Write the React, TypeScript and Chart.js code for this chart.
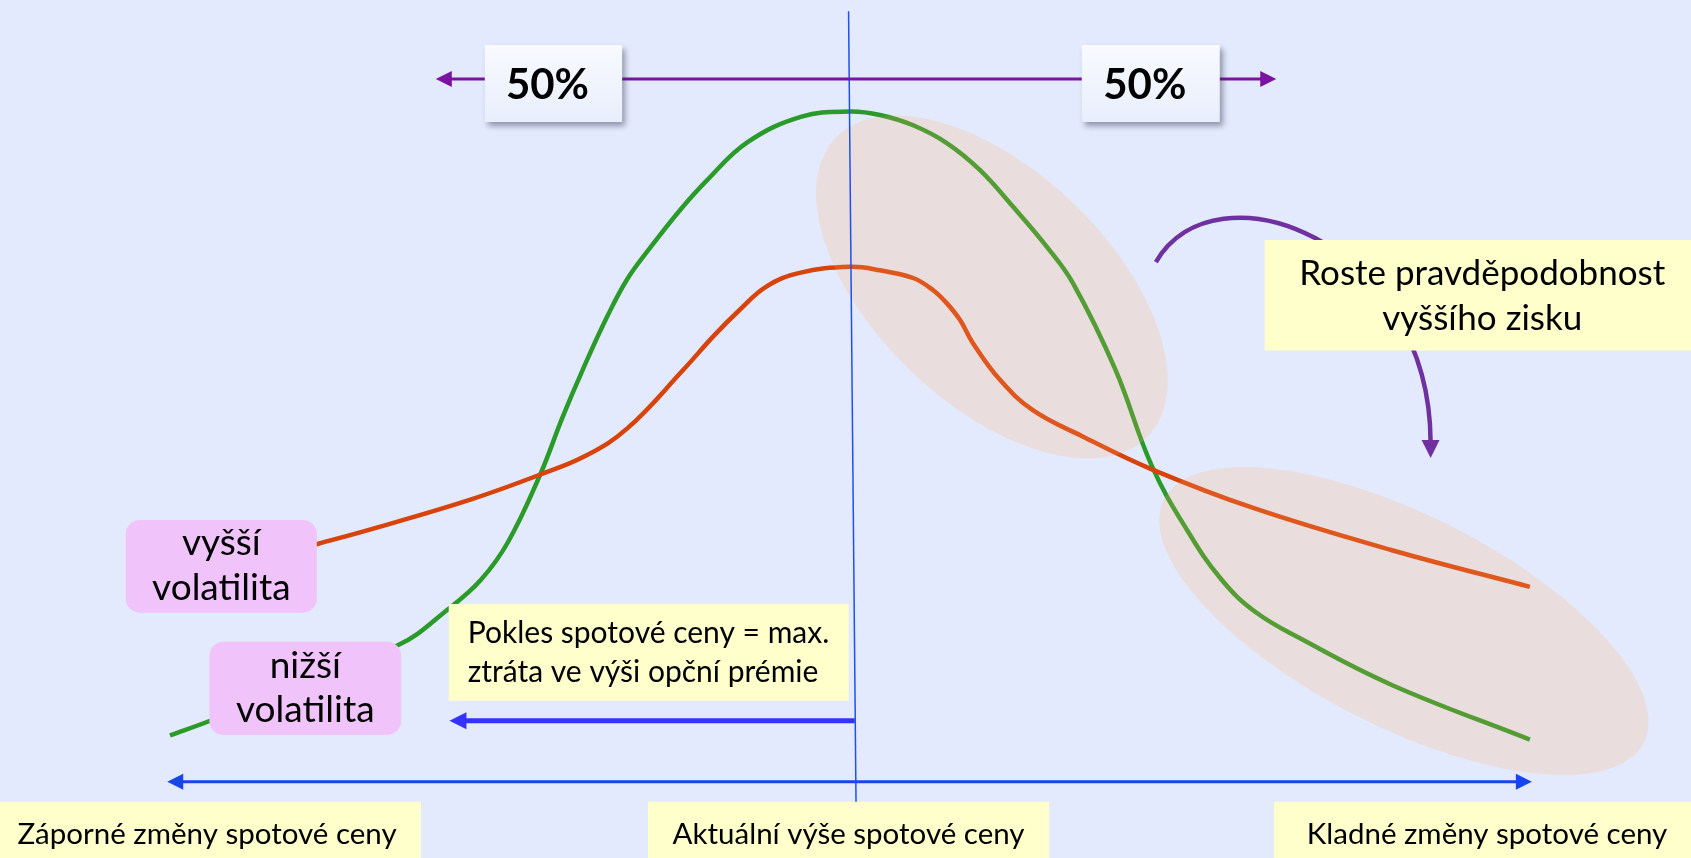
import React, { useEffect, useRef } from "react";
import { Chart, registerables } from "chart.js";

Chart.register(...registerables);

const W = 1691;
const H = 858;

// x = change of the spot price (relative units, 0 = current spot price)
// y = relative probability / payoff level
const lowVolX = [-10, -9.41, -6.65, -5.91, -5.43, -5.03, -4.56, -4.22, -3.93, -3.57, -3.28, -2.94, -2.5, -2.1, -1.51, -0.71, 0, 0.44, 0.93, 1.43, 1.91, 2.4, 2.9, 3.28, 3.9, 4.44, 4.96, 5.47, 5.96, 6.62, 7.96, 10];
const lowVolY = [14.3, 16, 24.8, 29, 32.4, 36.8, 44.6, 51.5, 56.9, 63.1, 67.4, 71.1, 75.5, 79, 83.4, 86.4, 87, 86.6, 85.4, 83.3, 80.2, 75.9, 71.2, 67, 57, 45.7, 38.2, 32.4, 28.7, 25.6, 20.2, 13.8];
const highVolX = [-10, -7.83, -6.92, -5.57, -4.55, -3.88, -3.27, -2.45, -2.01, -1.62, -1.23, -0.74, 0, 0.44, 0.93, 1.22, 1.42, 1.62, 1.81, 2.21, 2.69, 3.43, 4.44, 5.93, 7.96, 10];
const highVolY = [31.9, 36.6, 38.6, 41.8, 44.7, 46.9, 50.1, 56.9, 60.8, 63.9, 66.6, 68.2, 68.9, 68.5, 67.6, 66.2, 64.7, 62.7, 60, 55.7, 52.2, 49.1, 45.3, 40.8, 35.9, 31.6];

const axisLabels = ["Záporné změny spotové ceny", "Aktuální výše spotové ceny", "Kladné změny spotové ceny"];
const shareLabels = ["50%", "50%"];
const highVolLabel = ["vyšší", "volatilita"];
const lowVolLabel = ["nižší", "volatilita"];
const lossNote = ["Pokles spotové ceny = max.", "ztráta ve výši opční prémie"];
const gainNote = ["Roste pravděpodobnost", "vyššího zisku"];

// scale domain
const X_MIN = -12.5;
const X_MAX = 12.37;
const Y_MIN = 0;
const Y_MAX = 100;

// colours
const BG = "#E4EAFD";
const GREEN = "#2A9A2A";
const RED = "#D8430C";
const YELLOW = "#FFFFCC";
const PINK = "#F0C4FB";
const PURPLE_LINE = "#7B12A1";
const PURPLE_ARC = "#7030A0";
const BLUE_AXIS = "#1744EE";
const BLUE_LOSS = "#3333FF";
const BLUE_VLINE = "#1E50F0";
const HIGHLIGHT = "rgba(255,169,93,0.2)";
const FONT = "Lato, 'Open Sans', sans-serif";

// annotation geometry in data units
const highlights = [
  { c: [2.088, 66.55], major: [4.385, 49.16], minor: [0.9, 56.69] },
  { c: [8.147, 27.62], major: [11.675, 13.44], minor: [7.44, 16.61] },
];
const spotLine = { from: [-0.02, 98.7], to: [0.09, 6.5] };
const splitArrow = { y: 90.8, x1: -6.09, x2: 6.27 };
const axisArrow = { y: 8.89, x1: -10.04, x2: 10.03 };
const lossArrow = { y: 16.0, from: 0.07, to: -5.89 };
const gainArc = [[4.5, 69.46], [5.37, 81.35], [8.53, 72.03], [8.54, 48.48]];

type Box = {
  x1: number; x2: number; y1: number; y2: number;
  fill: string; radius: number; lines: string[]; font: string;
  align: "center" | "left"; inset?: number; baselines: number[]; dx?: number;
  shadow?: boolean;
};

const boxes: Box[] = [
  { x1: -5.37, x2: -3.35, y1: 94.76, y2: 85.78, fill: "grad", radius: 0, lines: [shareLabels[0]], font: `bold 42px ${FONT}`, align: "center", baselines: [16], dx: -6, shadow: true },
  { x1: 3.41, x2: 5.44, y1: 94.76, y2: 85.78, fill: "grad", radius: 0, lines: [shareLabels[1]], font: `bold 42px ${FONT}`, align: "center", baselines: [16], dx: -6, shadow: true },
  { x1: -10.65, x2: -7.84, y1: 39.39, y2: 28.59, fill: PINK, radius: 14, lines: highVolLabel, font: `37px ${FONT}`, align: "center", baselines: [-11.5, 33.5] },
  { x1: -9.42, x2: -6.6, y1: 25.21, y2: 14.34, fill: PINK, radius: 14, lines: lowVolLabel, font: `37px ${FONT}`, align: "center", baselines: [-10, 33.3] },
  { x1: -5.9, x2: -0.02, y1: 29.6, y2: 18.33, fill: YELLOW, radius: 0, lines: lossNote, font: `30px ${FONT}`, align: "left", inset: 19, baselines: [-9.5, 29.5] },
  { x1: 6.1, x2: 12.5, y1: 72.03, y2: 59.15, fill: YELLOW, radius: 0, lines: gainNote, font: `35px ${FONT}`, align: "center", baselines: [-10, 35] },
  { x1: -12.6, x2: -6.31, y1: 6.56, y2: -0.5, fill: YELLOW, radius: 0, lines: [axisLabels[0]], font: `29.5px ${FONT}`, align: "center", baselines: [12] },
  { x1: -2.97, x2: 2.93, y1: 6.56, y2: -0.5, fill: YELLOW, radius: 0, lines: [axisLabels[1]], font: `29.5px ${FONT}`, align: "center", baselines: [12] },
  { x1: 6.24, x2: 12.5, y1: 6.56, y2: -0.5, fill: YELLOW, radius: 0, lines: [axisLabels[2]], font: `29.5px ${FONT}`, align: "center", baselines: [12] },
];

function arrowHead(ctx: CanvasRenderingContext2D, tx: number, ty: number, dx: number, dy: number, len: number, half: number, color: string) {
  const n = Math.hypot(dx, dy) || 1;
  const ux = dx / n, uy = dy / n;
  const bx = tx - ux * len, by = ty - uy * len;
  ctx.beginPath();
  ctx.moveTo(tx, ty);
  ctx.lineTo(bx - uy * half, by + ux * half);
  ctx.lineTo(bx + uy * half, by - ux * half);
  ctx.closePath();
  ctx.fillStyle = color;
  ctx.fill();
}

const overlayPlugin = {
  id: "overlay",
  beforeDraw(chart: any) {
    const ctx = chart.ctx as CanvasRenderingContext2D;
    ctx.save();
    ctx.fillStyle = BG;
    ctx.fillRect(0, 0, chart.width, chart.height);
    ctx.restore();
  },
  afterDatasetsDraw(chart: any) {
    const ctx = chart.ctx as CanvasRenderingContext2D;
    const sx = chart.scales.x, sy = chart.scales.y;
    const px = (v: number) => sx.getPixelForValue(v);
    const py = (v: number) => sy.getPixelForValue(v);
    ctx.save();

    // highlight ellipses (semi-transparent, over the curves)
    for (const e of highlights) {
      const cx = px(e.c[0]), cy = py(e.c[1]);
      const ux = px(e.major[0]) - cx, uy = py(e.major[1]) - cy;
      const vx = px(e.minor[0]) - cx, vy = py(e.minor[1]) - cy;
      ctx.save();
      ctx.transform(ux, uy, vx, vy, cx, cy);
      ctx.beginPath();
      ctx.arc(0, 0, 1, 0, Math.PI * 2);
      ctx.restore();
      ctx.fillStyle = HIGHLIGHT;
      ctx.fill();
    }

    // current spot price line
    ctx.beginPath();
    ctx.moveTo(px(spotLine.from[0]), py(spotLine.from[1]));
    ctx.lineTo(px(spotLine.to[0]), py(spotLine.to[1]));
    ctx.strokeStyle = BLUE_VLINE;
    ctx.lineWidth = 1.5;
    ctx.stroke();

    // 50 / 50 split arrow
    {
      const y = py(splitArrow.y), a = px(splitArrow.x1), b = px(splitArrow.x2);
      ctx.beginPath();
      ctx.moveTo(a + 10, y);
      ctx.lineTo(b - 10, y);
      ctx.strokeStyle = PURPLE_LINE;
      ctx.lineWidth = 3;
      ctx.stroke();
      arrowHead(ctx, a, y, -1, 0, 16, 8, PURPLE_LINE);
      arrowHead(ctx, b, y, 1, 0, 16, 8, PURPLE_LINE);
    }

    // axis double arrow
    {
      const y = py(axisArrow.y), a = px(axisArrow.x1), b = px(axisArrow.x2);
      ctx.beginPath();
      ctx.moveTo(a + 10, y);
      ctx.lineTo(b - 10, y);
      ctx.strokeStyle = BLUE_AXIS;
      ctx.lineWidth = 3;
      ctx.stroke();
      arrowHead(ctx, a, y, -1, 0, 16, 8, BLUE_AXIS);
      arrowHead(ctx, b, y, 1, 0, 16, 8, BLUE_AXIS);
    }

    // loss arrow
    {
      const y = py(lossArrow.y), a = px(lossArrow.from), b = px(lossArrow.to);
      ctx.beginPath();
      ctx.moveTo(a, y);
      ctx.lineTo(b + 12, y);
      ctx.strokeStyle = BLUE_LOSS;
      ctx.lineWidth = 5;
      ctx.stroke();
      arrowHead(ctx, b, y, -1, 0, 17, 8.5, BLUE_LOSS);
    }

    // gain curved arrow
    {
      const p = gainArc.map((q) => [px(q[0]), py(q[1])]);
      ctx.beginPath();
      ctx.moveTo(p[0][0], p[0][1]);
      ctx.bezierCurveTo(p[1][0], p[1][1], p[2][0], p[2][1], p[3][0], p[3][1]);
      ctx.strokeStyle = PURPLE_ARC;
      ctx.lineWidth = 4.5;
      ctx.stroke();
      const dx = p[3][0] - p[2][0], dy = p[3][1] - p[2][1];
      const n = Math.hypot(dx, dy);
      arrowHead(ctx, p[3][0] + (dx / n) * 16, p[3][1] + (dy / n) * 16, dx, dy, 18, 9, PURPLE_ARC);
    }

    // boxes with text
    for (const b of boxes) {
      const x1 = px(b.x1), x2 = px(b.x2), y1 = py(b.y1), y2 = py(b.y2);
      const w = x2 - x1, h = y2 - y1;
      ctx.save();
      if (b.shadow) {
        ctx.shadowColor = "rgba(40,40,70,0.45)";
        ctx.shadowBlur = 6;
        ctx.shadowOffsetX = 3;
        ctx.shadowOffsetY = 4;
      }
      if (b.fill === "grad") {
        const g = ctx.createLinearGradient(0, y1, 0, y2);
        g.addColorStop(0, "#F8FAFF");
        g.addColorStop(1, "#E8EEFC");
        ctx.fillStyle = g;
      } else {
        ctx.fillStyle = b.fill;
      }
      ctx.beginPath();
      if (b.radius > 0) ctx.roundRect(x1, y1, w, h, b.radius);
      else ctx.rect(x1, y1, w, h);
      ctx.fill();
      ctx.restore();

      ctx.fillStyle = "#000";
      ctx.font = b.font;
      ctx.textBaseline = "alphabetic";
      const cy = (y1 + y2) / 2;
      b.lines.forEach((t, i) => {
        if (b.align === "left") {
          ctx.textAlign = "left";
          ctx.fillText(t, x1 + (b.inset || 0), cy + b.baselines[i]);
        } else {
          ctx.textAlign = "center";
          ctx.fillText(t, (x1 + x2) / 2 + (b.dx || 0), cy + b.baselines[i]);
        }
      });
    }
    ctx.restore();
  },
};

export default function App() {
  const ref = useRef<HTMLCanvasElement>(null);
  useEffect(() => {
    const chart = new Chart(ref.current as HTMLCanvasElement, {
      type: "line",
      data: {
        datasets: [
          {
            label: "vyšší volatilita",
            data: highVolX.map((x, i) => ({ x, y: highVolY[i] })),
            borderColor: RED,
            borderWidth: 4.5,
            pointRadius: 0,
            tension: 0.4,
            borderCapStyle: "butt",
            fill: false,
          },
          {
            label: "nižší volatilita",
            data: lowVolX.map((x, i) => ({ x, y: lowVolY[i] })),
            borderColor: GREEN,
            borderWidth: 4.5,
            pointRadius: 0,
            tension: 0.4,
            borderCapStyle: "butt",
            fill: false,
          },
        ],
      } as any,
      options: {
        animation: false,
        responsive: false,
        devicePixelRatio: 1,
        events: [],
        layout: { padding: 0 },
        plugins: { legend: { display: false }, tooltip: { enabled: false } },
        scales: {
          x: { type: "linear", min: X_MIN, max: X_MAX, display: false },
          y: { type: "linear", min: Y_MIN, max: Y_MAX, display: false },
        },
      } as any,
      plugins: [overlayPlugin as any],
    });
    return () => chart.destroy();
  }, []);
  return (
    <div style={{ position: "fixed", left: 0, top: 0, width: W, height: H, background: BG, overflow: "hidden" }}>
      <canvas ref={ref} width={W} height={H} style={{ display: "block", width: W, height: H }} />
    </div>
  );
}
